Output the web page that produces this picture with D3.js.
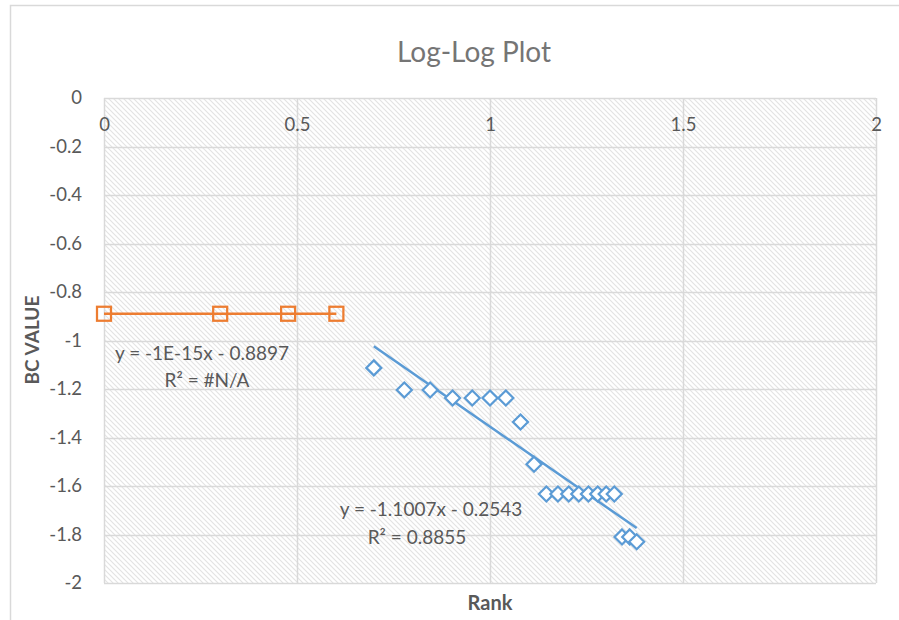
<!DOCTYPE html>
<html>
<head>
<meta charset="utf-8">
<script src="https://cdn.jsdelivr.net/npm/d3@7"></script>
<style>
  html, body { margin: 0; padding: 0; background: #fff; }
  svg { display: block; font-family: Lato, "Open Sans", sans-serif; }
</style>
</head>
<body>
<svg id="chart" width="899" height="620"></svg>
<script>
// Log rank (x) and log BC value (y) for the two groups
const topRankX = [0, 0.301, 0.477, 0.602];
const topBcY = [-0.8897, -0.8897, -0.8897, -0.8897];

const restRankX = [0.699, 0.778, 0.845, 0.903, 0.954, 1.0, 1.041, 1.079, 1.114, 1.146,
                   1.176, 1.204, 1.230, 1.255, 1.279, 1.301, 1.322, 1.342, 1.362, 1.380];
const restBcY = [-1.113, -1.204, -1.204, -1.237, -1.237, -1.237, -1.237, -1.336, -1.510, -1.633,
                 -1.633, -1.633, -1.633, -1.633, -1.633, -1.633, -1.633, -1.810, -1.810, -1.830];

// Linear trendlines: [slope, intercept]
const topTrend = [-1e-15, -0.8897];
const restTrend = [-1.1007, -0.2543];
const topTrendLabel = ["y = -1E-15x - 0.8897", "R² = #N/A"];
const restTrendLabel = ["y = -1.1007x - 0.2543", "R² = 0.8855"];

const xTicks = [0, 0.5, 1, 1.5, 2];
const yTicks = [0, -0.2, -0.4, -0.6, -0.8, -1, -1.2, -1.4, -1.6, -1.8, -2];

const svg = d3.select("#chart");
const grid = "#d9d9d9", text = "#595959";
const blue = "#5b9bd5", orange = "#ed7d31";

// chart frame
svg.append("path").attr("d", "M10.5,620 V5.5 H899").attr("fill", "none")
  .attr("stroke", grid).attr("stroke-width", 1.5);

const x = d3.scaleLinear().domain([0, 2]).range([104, 876]);
const y = d3.scaleLinear().domain([0, -2]).range([98, 583]);

// diagonal hatch fill for the plot area
const defs = svg.append("defs");
const pat = defs.append("pattern").attr("id", "hatch").attr("patternUnits", "userSpaceOnUse")
  .attr("width", 5).attr("height", 5);
pat.append("rect").attr("width", 5).attr("height", 5).attr("fill", "#fff");
pat.append("path").attr("d", "M-1,-1 L6,6 M-1,4 L1,6 M4,-1 L6,1")
  .attr("stroke", "#e3e3e3").attr("stroke-width", 1.1);

svg.append("rect").attr("x", x(0)).attr("y", y(0))
  .attr("width", x(2) - x(0)).attr("height", y(-2) - y(0))
  .attr("fill", "url(#hatch)");

// gridlines
svg.append("g").selectAll("line").data(yTicks).join("line")
  .attr("x1", x(0)).attr("x2", x(2))
  .attr("y1", d => Math.round(y(d)) + 0.5).attr("y2", d => Math.round(y(d)) + 0.5)
  .attr("stroke", grid).attr("stroke-width", 1.5);
svg.append("g").selectAll("line").data(xTicks).join("line")
  .attr("y1", y(0)).attr("y2", y(-2))
  .attr("x1", d => Math.round(x(d)) + 0.5).attr("x2", d => Math.round(x(d)) + 0.5)
  .attr("stroke", grid).attr("stroke-width", 1.5);

const fmt = d => String(+d.toFixed(1));

// y axis labels
const yAxis = svg.append("g").attr("transform", `translate(${x(0)},0)`)
  .call(d3.axisLeft(y).tickValues(yTicks).tickFormat(fmt).tickSize(0).tickPadding(22));
yAxis.select(".domain").remove();
yAxis.selectAll("text").attr("fill", text).style("font-size", "18.5px")
  .style("font-family", "Lato, 'Open Sans', sans-serif");

// x axis labels sit just under the zero line
const xAxis = svg.append("g").attr("transform", `translate(0,${y(0)})`)
  .call(d3.axisBottom(x).tickValues(xTicks).tickFormat(fmt).tickSize(0).tickPadding(20));
xAxis.select(".domain").remove();
xAxis.selectAll("text").attr("fill", text).style("font-size", "18.5px")
  .style("font-family", "Lato, 'Open Sans', sans-serif");

// title and axis titles
svg.append("text").attr("x", 474).attr("y", 62).attr("text-anchor", "middle")
  .attr("fill", "#757575").style("font-size", "28px").text("Log-Log Plot");
svg.append("text").attr("transform", "translate(39,340) rotate(-90)").attr("text-anchor", "middle")
  .attr("fill", text).style("font-size", "19px").style("font-weight", "bold").text("BC VALUE");
svg.append("text").attr("x", 490).attr("y", 610).attr("text-anchor", "middle")
  .attr("fill", text).style("font-size", "20px").style("font-weight", "bold").text("Rank");

// trendlines over each group's x range
function trend(coef, xs) {
  const x0 = d3.min(xs), x1 = d3.max(xs);
  return [[x0, coef[0] * x0 + coef[1]], [x1, coef[0] * x1 + coef[1]]];
}
const line = d3.line().x(d => x(d[0])).y(d => y(d[1]));
svg.append("path").attr("d", line(trend(topTrend, topRankX))).attr("fill", "none")
  .attr("stroke", orange).attr("stroke-width", 2.5);
svg.append("path").attr("d", line(trend(restTrend, restRankX))).attr("fill", "none")
  .attr("stroke", blue).attr("stroke-width", 2.5);

// square markers
svg.append("g").selectAll("rect").data(topRankX).join("rect")
  .attr("x", d => x(d) - 7).attr("y", (d, i) => y(topBcY[i]) - 7)
  .attr("width", 14).attr("height", 14)
  .attr("fill", "none").attr("stroke", orange).attr("stroke-width", 2.25);

// diamond markers
svg.append("g").selectAll("path").data(restRankX).join("path")
  .attr("transform", (d, i) => `translate(${x(d)},${y(restBcY[i])})`)
  .attr("d", "M0,-7.5 L7.5,0 L0,7.5 L-7.5,0 Z")
  .attr("fill", "#fff").attr("stroke", blue).attr("stroke-width", 2.25);

// trendline equations
function eqLabel(lines, cx, yPos) {
  lines.forEach((t, i) => {
    svg.append("text").attr("x", cx[i]).attr("y", yPos[i]).attr("text-anchor", "middle")
      .attr("fill", text).style("font-size", "19px").text(t);
  });
}
eqLabel(topTrendLabel, [202, 207], [360, 387]);
eqLabel(restTrendLabel, [431, 417], [516, 544]);
</script>
</body>
</html>
